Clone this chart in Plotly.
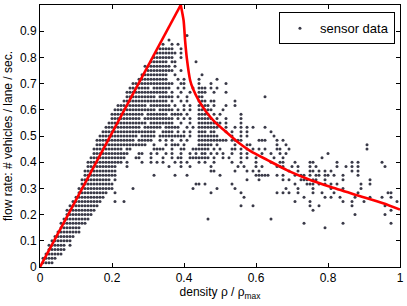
import plotly.graph_objects as go

# density = cell / 120, flow = row / 60  (data are quantised on this grid)
DENSITY_STEP = 1 / 120
FLOW_STEP = 1 / 60
rows = {
    1: "1-4",
    2: "1-5",
    3: "2-7",
    4: "3-8",
    5: "3-8,10",
    6: "4-10",
    7: "5-11",
    8: "6-12,13",
    9: "7-13,95",
    10: "7-14,15,88,101,117",
    11: "8-15,16,56,77",
    12: "9-16,17,105,115",
    13: "9-18,91,117",
    14: "10-19,67,71,90,93,104,115",
    15: "11-20,25,28,85,90,101,104,108,119",
    16: "12-21,68,88,95,97,100,105,110,114,117",
    17: "13-22,25,57,67,79,81,83,86,91,94,98,106,116,117",
    18: "13-23,24,31,51,59,65,82,86,91,97,101,107",
    19: "14-24,52,53,55,64,85,89,90,91,93,95,97,99,107,110",
    20: "14-23,25,69,73,81,83,87,88,89,91,92,95,101,110",
    21: "15-24,25,38,45,49,60,72-76,79,81,85,87,88,90,92,93,95,96,98,101,106",
    22: "15-24,25,57,58,65,69,71,73,83,86,90,91,93,95,97,104,106",
    23: "16-24,25,29,43,47,50,57,66,68,72,74,79,80,81,84,86,90,92,99,102,104,106,115",
    24: "16-26,27,29,34,37,39,41,45,47,49,53,55,58,64,67,72,77,80,81,85,90,91,99,104,106,114",
    25: "17-27,28,32-33,37,41,44,46-47,50-52,53-56,58,61,63,67,69,72,78,81,94",
    26: "18-28,29,33-34,37,39,42,44,47,50,52,54,55,57,59,61,64,67,69,74,77,80,82,96",
    27: "18-27,29,30,38-41,44,47,48,51-56,58,60,64-65,67,69,71,73,75,79-80,83,109",
    28: "19-32,33-35,38,42,44-46,48,53-57,59,65,69,70,79,82,109",
    29: "19-31,33-37,40,42,44,47,49,53-62,64-67,73-75,79,81",
    30: "20-32,34-38,40-48,50,53-58,59,64,67,69,78",
    31: "21-34,35-38,41-44,46,48,50,53-55,57,58,62,64,67,69,77",
    32: "22-33,35-40,42-46,49,51,53-59,62,65,67,69,71,75",
    33: "23-35,37-41,42-44,47,50,53-60,62,67",
    34: "24-33,35-44,46,48,50,53-57,59,62,67",
    35: "24-34,36-42,44-47,49,53-56,58,60,67",
    36: "25-33,34-38,40-44,46,48,50,53-57,61",
    37: "26-35,37-43,45,48,50,53-56,58,62,65",
    38: "28-36,37-42,44,47,49,53-55,57,58,65",
    39: "29-38,40-44,46,49,53-54,75",
    40: "29-42,44,47,50,53-55,58,62",
    41: "30-36,38-42,43,46,48,51,53-55,57,59",
    42: "31-37,38-44,47,48,53,57,62",
    43: "33-42,46,48,53,59",
    44: "34-42,45,54",
    45: "36-39,40,41-44,47",
    46: "35-43,45",
    47: "37-41,42,44-45,52",
    48: "38-44,47",
    49: "39-45,47",
    50: "40-44,47",
    51: "41,44,46",
    52: "43",
    53: "49",
}

# Red model curve (fundamental diagram)
free_density = [0, 0.391]
free_flow = [0, 1.0]
cong_density = [0.391, 0.399, 0.403, 0.408, 0.417, 0.425, 0.44, 0.463, 0.486,
                0.513, 0.55, 0.586, 0.632, 0.687, 0.742, 0.806, 0.88, 0.953, 1.0]
cong_flow = [1.0, 0.94, 0.865, 0.795, 0.713, 0.68, 0.638, 0.59, 0.553,
             0.52, 0.476, 0.441, 0.408, 0.369, 0.337, 0.306, 0.274, 0.243, 0.219]

x_ticks = [0, 0.2, 0.4, 0.6, 0.8, 1]
x_tick_text = ["0", "0.2", "0.4", "0.6", "0.8", "1"]
y_ticks = [0, 0.1, 0.2, 0.3, 0.4, 0.5, 0.6, 0.7, 0.8, 0.9]
y_tick_text = ["0", "0.1", "0.2", "0.3", "0.4", "0.5", "0.6", "0.7", "0.8", "0.9"]

sx, sy = [], []
for k, spec in rows.items():
    for part in spec.split(","):
        if "-" in part:
            a, b = part.split("-")
            cells = range(int(a), int(b) + 1)
        else:
            cells = [int(part)]
        for j in cells:
            sx.append(j * DENSITY_STEP)
            sy.append(k * FLOW_STEP)

FONT = "Liberation Sans, Arial, Helvetica, sans-serif"

fig = go.Figure()
fig.add_trace(go.Scatter(
    x=sx, y=sy, mode="markers", name="sensor data",
    marker=dict(size=3, color="rgb(58,58,72)", line=dict(width=0)),
    showlegend=True,
))
fig.add_trace(go.Scatter(
    x=free_density, y=free_flow, mode="lines", name="model",
    line=dict(color="#ff0000", width=2.6),
    showlegend=False,
))
fig.add_trace(go.Scatter(
    x=cong_density, y=cong_flow, mode="lines", name="model",
    line=dict(color="#ff0000", width=2.6, shape="spline", smoothing=0.6),
    showlegend=False,
))

axis_common = dict(
    showgrid=False, zeroline=False, showline=True, linecolor="black", linewidth=1,
    mirror="ticks", ticks="inside", ticklen=4, tickcolor="black",
    tickfont=dict(family=FONT, size=12, color="black"),
    ticklabeloverflow="allow",
)
fig.update_xaxes(range=[0, 1], tickvals=x_ticks, ticktext=x_tick_text,
                 title=dict(text="density ρ / ρ<sub>max</sub>",
                            font=dict(family=FONT, size=12, color="black"), standoff=3),
                 **axis_common)
fig.update_yaxes(range=[0, 1], tickvals=y_ticks, ticktext=y_tick_text,
                 title=dict(text="flow rate: # vehicles / lane / sec.",
                            font=dict(family=FONT, size=12, color="black"), standoff=4),
                 **axis_common)

fig.update_layout(
    width=407, height=306,
    margin=dict(l=40, r=3, t=5, b=39),
    paper_bgcolor="white", plot_bgcolor="white",
    font=dict(family=FONT, size=12, color="black"),
    legend=dict(x=0.986, y=0.972, xanchor="right", yanchor="top",
                bordercolor="black", borderwidth=1, bgcolor="white",
                font=dict(family=FONT, size=13, color="black"),
                itemsizing="trace"),
)

fig.write_html("out.html", config={"displayModeBar": False},
               post_script="document.body.style.margin='0';document.body.style.overflow='hidden';")
